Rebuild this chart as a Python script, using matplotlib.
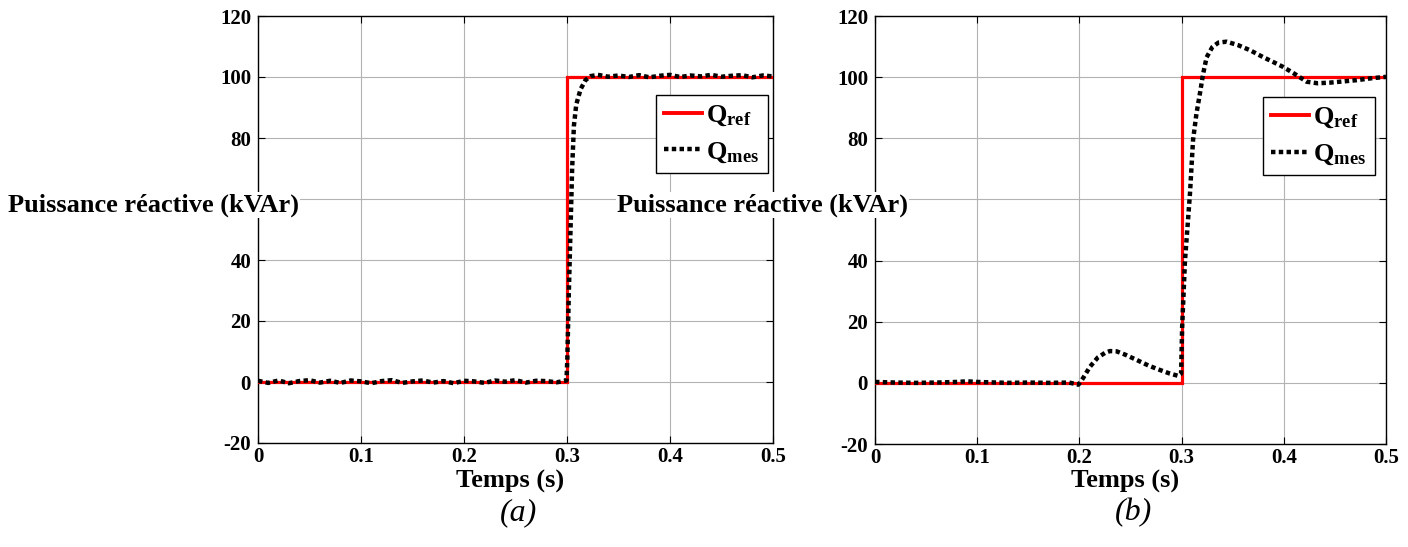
import matplotlib
matplotlib.use("Agg")
import matplotlib.pyplot as plt
from matplotlib.lines import Line2D

plt.rcParams["font.family"] = ["Liberation Serif", "DejaVu Serif"]
plt.rcParams["font.weight"] = "bold"
plt.rcParams["axes.unicode_minus"] = False
plt.rcParams["mathtext.fontset"] = "custom"
plt.rcParams["mathtext.rm"] = "Liberation Serif:bold"
plt.rcParams["mathtext.bf"] = "Liberation Serif:bold"
plt.rcParams["mathtext.it"] = "Liberation Serif:bold"

# ---- reference reactive power (both cases) ----
qref_t = [0.0, 0.3, 0.3, 0.5]
qref_v = [0.0, 0.0, 100.0, 100.0]

# ---- case (a): measured reactive power ----
qa_t = [0.0, 0.01, 0.02, 0.03, 0.04, 0.05, 0.06, 0.07, 0.08, 0.09, 0.10,
        0.11, 0.12, 0.13, 0.14, 0.15, 0.16, 0.17, 0.18, 0.19, 0.20, 0.21,
        0.22, 0.23, 0.24, 0.25, 0.26, 0.27, 0.28, 0.29, 0.2995,
        0.3003, 0.3018, 0.3035, 0.305, 0.3067, 0.309, 0.3132, 0.318, 0.323,
        0.33, 0.34, 0.35, 0.36, 0.37, 0.38, 0.39, 0.40, 0.41, 0.42, 0.43,
        0.44, 0.45, 0.46, 0.47, 0.48, 0.49, 0.50]
qa_v = [0.4, -0.3, 0.5, -0.4, 0.3, 0.6, -0.2, 0.4, -0.3, 0.5, 0.2,
        -0.4, 0.3, 0.6, -0.3, 0.2, 0.5, -0.2, 0.3, -0.4, 0.4, 0.2,
        -0.3, 0.5, 0.1, 0.6, -0.2, 0.4, 0.3, -0.1, 0.5,
        7.5, 29.5, 51.0, 70.0, 84.0, 91.0, 96.0, 99.0, 100.3,
        100.7, 100.1, 100.5, 100.0, 100.6, 99.9, 100.4, 100.7, 100.0, 100.5,
        100.2, 100.7, 100.1, 100.4, 100.6, 99.9, 100.5, 100.2]

# ---- case (b): measured reactive power ----
qb_t = [0.0, 0.02, 0.04, 0.06, 0.08, 0.09, 0.10, 0.11, 0.13, 0.15, 0.17,
        0.19, 0.199, 0.2035, 0.2104, 0.218, 0.225, 0.2299, 0.2365, 0.245,
        0.256, 0.268, 0.2789, 0.288, 0.2965, 0.2995, 0.3005, 0.3033, 0.306,
        0.3082, 0.3112, 0.3145, 0.318, 0.321, 0.3245, 0.33, 0.336, 0.344,
        0.355, 0.367, 0.38, 0.39, 0.399, 0.41, 0.4224, 0.433, 0.445, 0.458,
        0.471, 0.485, 0.50]
qb_v = [0.3, 0.1, 0.0, 0.1, 0.3, 0.5, 0.3, 0.2, 0.0, 0.1, 0.0,
        0.1, -0.6, 1.5, 5.3, 8.3, 9.8, 10.4, 10.3, 9.2,
        7.5, 5.6, 4.2, 3.1, 2.3, 3.0, 18.0, 40.0, 52.0,
        62.0, 79.4, 88.0, 94.8, 101.0, 106.5, 109.8, 111.3, 111.6,
        110.5, 108.8, 106.5, 104.9, 103.4, 101.2, 98.5, 98.0, 98.2, 98.6,
        99.0, 99.6, 100.1]

xticks = [0, 0.1, 0.2, 0.3, 0.4, 0.5]
xtick_labels = ["0", "0.1", "0.2", "0.3", "0.4", "0.5"]
yticks = [-20, 0, 20, 40, 60, 80, 100, 120]
# the 60 label sits under the horizontal axis title, so it is left blank
ytick_labels = ["-20", "0", "20", "40", "", "80", "100", "120"]

W, H = 1408, 547
fig = plt.figure(figsize=(W / 100, H / 100), dpi=100)


def frac(x0, y0, x1, y1):
    return [x0 / W, 1 - y1 / H, (x1 - x0) / W, (y1 - y0) / H]


panels = [
    dict(rect=frac(258, 16, 773, 443), t=qa_t, v=qa_v, tag="(a)",
         leg=(0.99, 0.815), ylab_x=8),
    dict(rect=frac(875, 16, 1386, 444), t=qb_t, v=qb_v, tag="(b)",
         leg=(0.978, 0.81), ylab_x=617),
]

for p in panels:
    ax = fig.add_axes(p["rect"])
    ax.plot(qref_t, qref_v, color="#ff0000", lw=2.3, solid_joinstyle="miter",
            zorder=3)
    ax.plot(p["t"], p["v"], color="black", lw=3.2, linestyle=(0, (1.0, 0.75)),
            dash_capstyle="butt", zorder=4)
    ax.set_xlim(0, 0.5)
    ax.set_ylim(-20, 120)
    ax.set_xticks(xticks)
    ax.set_xticklabels(xtick_labels)
    ax.set_yticks(yticks)
    ax.set_yticklabels(ytick_labels)
    ax.tick_params(direction="in", length=5, width=0.8, top=True, right=True,
                   labelsize=15, pad=5)
    ax.tick_params(axis="x", pad=3)
    for lab in ax.get_xticklabels() + ax.get_yticklabels():
        lab.set_fontweight("bold")
    ax.grid(True, color="#b3b3b3", lw=0.8)
    ax.set_axisbelow(True)
    for s in ax.spines.values():
        s.set_linewidth(1.0)

    handles = [
        Line2D([], [], color="#ff0000", lw=2.8),
        Line2D([], [], color="black", lw=3.2, linestyle=(0, (1.0, 0.75)),
               dash_capstyle="butt"),
    ]
    leg = ax.legend(handles, [r"$\mathbf{Q_{ref}}$", r"$\mathbf{Q_{mes}}$"],
                    loc="upper right", bbox_to_anchor=p["leg"],
                    borderaxespad=0, fontsize=19, fancybox=False,
                    framealpha=1, edgecolor="black", handlelength=1.45,
                    handletextpad=0.15, borderpad=0.32, labelspacing=0.45)
    leg.get_frame().set_linewidth(1.0)
    leg.set_zorder(6)

    bb = p["rect"]
    cx = bb[0] + bb[2] / 2
    fig.text(cx - 0.004, 1 - 481 / H, "Temps (s)", ha="center", va="center",
             fontsize=19, fontweight="bold")
    fig.text(cx + 0.002, 1 - 513 / H, p["tag"], ha="center", va="center",
             fontsize=23, fontweight="normal", fontstyle="italic")
    fig.text(p["ylab_x"] / W, 1 - 205 / H, "Puissance réactive (kVAr)",
             ha="left", va="center", fontsize=19, fontweight="bold",
             bbox=dict(facecolor="white", edgecolor="none", pad=1.0),
             zorder=10)

fig.savefig("out.png", dpi=100)
